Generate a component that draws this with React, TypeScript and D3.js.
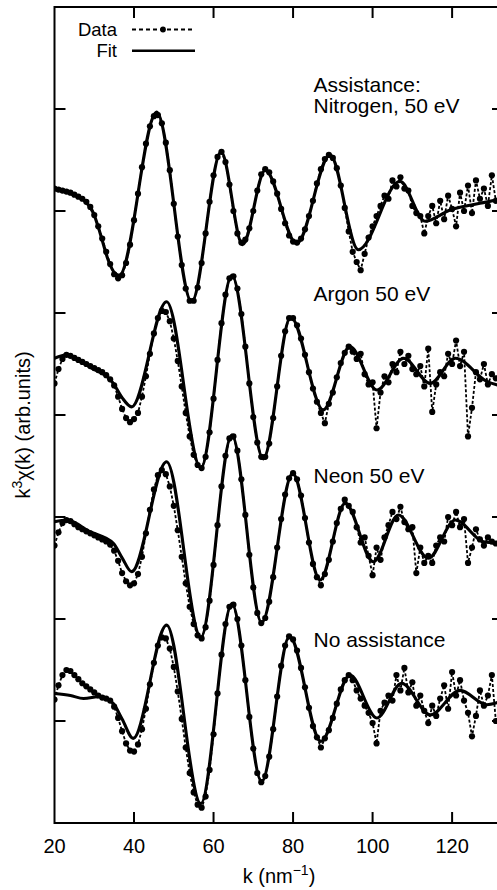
import React from "react";
import * as d3 from "d3";

// k grid for data points (nm^-1)
const kGrid: number[] = d3.range(20, 132, 1);

// Data series (offset k^3 chi(k), arb. units), one value per k in kGrid
const dataNitrogen: number[] = [
  6.22, 6.21, 6.2, 6.19, 6.18, 6.16, 6.14, 6.12, 6.09, 6.04,
  5.96, 5.85, 5.73, 5.6, 5.48, 5.38, 5.34, 5.37, 5.49, 5.67,
  5.91, 6.17, 6.43, 6.66, 6.83, 6.93, 6.94, 6.86, 6.67, 6.4,
  6.07, 5.75, 5.47, 5.24, 5.12, 5.12, 5.25, 5.49, 5.78, 6.09,
  6.35, 6.53, 6.58, 6.48, 6.26, 6.0, 5.78, 5.69, 5.72, 5.83,
  6.0, 6.2, 6.36, 6.41, 6.38, 6.29, 6.17, 6.02, 5.88, 5.76,
  5.7, 5.69, 5.73, 5.82, 5.95, 6.1, 6.27, 6.41, 6.51, 6.55,
  6.52, 6.42, 6.25, 6.03, 5.8, 5.6, 5.5, 5.42, 5.58, 5.74,
  5.85, 5.95, 6.05, 6.15, 6.12, 6.3, 6.24, 6.33, 6.22, 6.2,
  6.05, 5.98, 5.95, 5.78, 5.95, 6.05, 5.88, 6.1, 5.92, 6.15,
  6.02, 5.85, 6.18, 6.0, 6.25, 5.98, 6.3, 6.12, 6.22, 6.05,
  6.35, 6.1,
];
const dataArgon: number[] = [
  4.31, 4.45, 4.55, 4.59, 4.58, 4.56, 4.54, 4.52, 4.5, 4.48,
  4.46, 4.44, 4.42, 4.39, 4.35, 4.29, 4.18, 4.06, 3.97, 3.93,
  3.96, 4.02, 4.18, 4.38, 4.6, 4.8, 4.95, 5.02, 5.01, 4.92,
  4.75, 4.53, 4.28, 4.02, 3.79, 3.61, 3.51, 3.48, 3.59, 3.83,
  4.16, 4.54, 4.9, 5.18, 5.34, 5.36, 5.24, 4.99, 4.67, 4.31,
  3.98, 3.73, 3.59, 3.59, 3.72, 3.97, 4.28, 4.58, 4.82, 4.95,
  4.95, 4.88, 4.75, 4.59, 4.42, 4.26, 4.13, 4.02, 3.92, 4.11,
  4.22, 4.37, 4.51, 4.61, 4.67, 4.62, 4.55, 4.6, 4.4, 4.3,
  4.32, 3.87, 4.22, 4.38, 4.32, 4.5, 4.42, 4.62, 4.5, 4.58,
  4.45, 4.4, 4.48, 4.28, 4.65, 4.03, 4.3, 4.42, 4.38, 4.6,
  4.5, 4.73, 4.48, 4.62, 3.79, 4.07, 4.42, 4.35, 4.5, 4.3,
  4.4, 4.36,
];
const dataNeon: number[] = [
  2.72, 2.85, 2.94, 2.97, 2.96, 2.93, 2.9, 2.88, 2.86, 2.84,
  2.82, 2.8, 2.78, 2.76, 2.73, 2.67, 2.57, 2.45, 2.37, 2.33,
  2.35, 2.44, 2.61, 2.84, 3.07, 3.27, 3.41, 3.46, 3.42, 3.3,
  3.11, 2.87, 2.61, 2.35, 2.12, 1.95, 1.84, 1.81, 1.92, 2.18,
  2.53, 2.92, 3.3, 3.6, 3.77, 3.79, 3.65, 3.37, 3.02, 2.63,
  2.31, 2.06, 1.96, 2.01, 2.17, 2.41, 2.7, 2.98, 3.22, 3.38,
  3.43, 3.37, 3.21, 2.99, 2.75, 2.54, 2.41, 2.33, 2.44, 2.58,
  2.76, 2.94, 3.08, 3.17, 3.11, 3.05, 2.9, 2.75, 2.8, 2.62,
  2.43, 2.7, 2.58, 2.8, 2.92, 3.05, 2.98, 3.1, 2.95, 2.88,
  2.9, 2.45, 2.7, 2.55, 2.62, 2.55, 2.72, 2.8, 2.76, 3.0,
  2.92, 3.05, 2.9, 2.98, 2.55, 2.7, 2.88, 2.78, 2.72, 2.8,
  2.76, 2.74,
];
const dataNoAssist: number[] = [
  1.21, 1.35, 1.45, 1.5, 1.49, 1.45, 1.41, 1.37, 1.34, 1.31,
  1.28, 1.25, 1.23, 1.22, 1.2, 1.14, 1.03, 0.9, 0.78, 0.71,
  0.7, 0.77, 0.92, 1.12, 1.36, 1.57, 1.74, 1.82, 1.81, 1.71,
  1.53, 1.29, 1.02, 0.74, 0.49, 0.3, 0.18, 0.15, 0.26, 0.52,
  0.87, 1.27, 1.65, 1.95, 2.12, 2.14, 2.0, 1.74, 1.4, 1.04,
  0.73, 0.49, 0.4, 0.46, 0.65, 0.92, 1.24, 1.54, 1.74, 1.83,
  1.8, 1.69, 1.52, 1.33, 1.13, 0.95, 0.84, 0.74, 0.83, 0.91,
  1.03, 1.17, 1.31, 1.4, 1.45, 1.4, 1.3, 1.22, 1.15, 1.08,
  0.98, 0.78, 1.1, 1.18, 1.25, 1.2, 1.45, 1.3, 1.52, 1.28,
  1.38, 1.15, 1.25, 1.1, 0.98, 1.15, 1.05, 1.22, 1.35, 1.12,
  1.48, 1.25, 1.4, 1.2, 1.08, 0.85, 1.05, 1.3, 1.15, 1.25,
  1.45, 1.0,
];

// Fit curves: [k, value] knots
const fitNitrogen: [number, number][] = [
  [20, 6.21], [24, 6.17], [27.3, 6.11], [29.8, 5.98], [31.5, 5.78], [33.5, 5.52],
  [35.2, 5.39], [36.3, 5.37], [45.7, 6.97], [54.5, 5.11], [61.9, 6.58], [67.3, 5.67],
  [73.0, 6.4], [80.9, 5.68], [89.3, 6.55], [96.4, 5.62], [106.9, 6.29], [113.2, 5.9],
  [119.5, 6.01], [127, 6.075], [132.8, 6.12],
];
const fitArgon: [number, number][] = [
  [20, 4.556], [23.1, 4.59], [28.9, 4.47], [34.8, 4.31], [37, 4.17], [39.4, 4.08],
  [48.2, 5.11], [56.8, 3.48], [64.6, 5.37], [72.5, 3.57], [79.4, 4.96], [87.6, 4.05],
  [94.3, 4.67], [101.1, 4.245], [107.8, 4.556], [114.5, 4.31], [120.8, 4.556],
  [128.7, 4.33], [132.8, 4.28],
];
const fitNeon: [number, number][] = [
  [20, 2.954], [23.1, 2.97], [28.9, 2.856], [34.8, 2.742], [37, 2.6], [39.4, 2.464],
  [48.2, 3.542], [56.8, 1.82], [64.6, 3.804], [72.1, 1.965], [79.9, 3.428], [86.8, 2.382],
  [93.1, 3.134], [100.2, 2.562], [106.5, 3.02], [114.0, 2.595], [120.8, 2.97],
  [127.9, 2.758], [132.8, 2.74],
];
const fitNoAssist: [number, number][] = [
  [20, 1.27], [24, 1.25], [27.3, 1.22], [31.5, 1.24], [34.8, 1.17], [37, 1.02],
  [39.8, 0.83], [48.2, 1.94], [56.8, 0.19], [64.6, 2.15], [72.1, 0.405], [79.1, 1.83],
  [87.0, 0.8], [94.3, 1.45], [101.1, 1.03], [107.3, 1.37], [114.5, 1.06], [122.0, 1.3],
  [128.7, 1.16], [132.8, 1.2],
];

const xTicks: number[] = [20, 40, 60, 80, 100, 120];
const yTicks: number[] = [1, 2, 3, 4, 5, 6, 7];

const curveLabels = [
  { lines: ["Assistance:", "Nitrogen, 50 eV"], v: 7.17 },
  { lines: ["Argon 50 eV"], v: 5.12 },
  { lines: ["Neon 50 eV"], v: 3.33 },
  { lines: ["No assistance"], v: 1.73 },
];

const FONT = "'Liberation Sans', Arial, Helvetica, sans-serif";

export default function App() {
  const W = 497;
  const H = 890;
  const left = 54.5;
  const right = 503;
  const top = 7;
  const bottom = 823;
  const x = d3.scaleLinear().domain([20, 132.8]).range([left, right]);
  const y = d3.scaleLinear().domain([0, 8]).range([bottom, top]);

  const dataSeries = [dataNitrogen, dataArgon, dataNeon, dataNoAssist];
  const fitSeries = [fitNitrogen, fitArgon, fitNeon, fitNoAssist];

  const dataLine = d3
    .line<number>()
    .x((_, i) => x(kGrid[i]))
    .y((d) => y(d));
  const fitLine = d3
    .line<[number, number]>()
    .x((d) => x(d[0]))
    .y((d) => y(d[1]))
    .curve(d3.curveMonotoneX);

  const tickLen = 11;

  return (
    <svg
      width={W}
      height={H}
      style={{ position: "absolute", left: 0, top: 0, background: "#fff" }}
      fontFamily={FONT}
    >
      <defs>
        <clipPath id="plot">
          <rect x={left} y={top} width={right - left} height={bottom - top} />
        </clipPath>
      </defs>
      <rect x={0} y={0} width={W} height={H} fill="#fff" />

      <g clipPath="url(#plot)">
        {dataSeries.map((s, si) => (
          <g key={"d" + si}>
            <path
              d={dataLine(s) || ""}
              fill="none"
              stroke="#000"
              strokeWidth={1.8}
              strokeDasharray="3,2"
            />
            {s.map((v, i) => (
              <circle key={i} cx={x(kGrid[i])} cy={y(v)} r={3.1} fill="#000" />
            ))}
          </g>
        ))}
        {fitSeries.map((f, fi) => (
          <path
            key={"f" + fi}
            d={fitLine(f) || ""}
            fill="none"
            stroke="#000"
            strokeWidth={3.1}
            strokeLinejoin="round"
          />
        ))}
      </g>

      {/* frame */}
      <rect
        x={left}
        y={top}
        width={right - left}
        height={bottom - top}
        fill="none"
        stroke="#000"
        strokeWidth={2}
      />
      {xTicks
        .filter((t) => t > 20)
        .map((t) => (
          <g key={"xt" + t}>
            <line x1={x(t)} x2={x(t)} y1={bottom} y2={bottom - tickLen} stroke="#000" strokeWidth={2} />
            <line x1={x(t)} x2={x(t)} y1={top} y2={top + tickLen} stroke="#000" strokeWidth={2} />
          </g>
        ))}
      {yTicks.map((t) => (
        <g key={"yt" + t}>
          <line x1={left} x2={left + tickLen} y1={y(t)} y2={y(t)} stroke="#000" strokeWidth={2} />
          <line x1={right} x2={right - tickLen} y1={y(t)} y2={y(t)} stroke="#000" strokeWidth={2} />
        </g>
      ))}
      {xTicks.map((t) => (
        <text key={"xl" + t} x={x(t)} y={852.5} fontSize={20} textAnchor="middle" fill="#000">
          {t}
        </text>
      ))}
      <text x={279} y={883} fontSize={20} textAnchor="middle" fill="#000">
        k (nm<tspan dy={-8} fontSize={14}>−1</tspan>
        <tspan dy={8}>)</tspan>
      </text>
      <text
        transform={`translate(30, 425) rotate(-90)`}
        fontSize={20}
        textAnchor="middle"
        fill="#000"
      >
        k<tspan dy={-8} fontSize={14}>3</tspan>
        <tspan dy={8}>χ(k) (arb.units)</tspan>
      </text>

      {/* curve labels */}
      {curveLabels.map((c, ci) => (
        <text key={"cl" + ci} x={313.5} y={y(c.v)} fontSize={21} fill="#000">
          {c.lines.map((l, li) => (
            <tspan key={li} x={313.5} dy={li === 0 ? 0 : 21.5}>
              {l}
            </tspan>
          ))}
        </text>
      ))}

      {/* legend */}
      <text x={117} y={36} fontSize={18.5} textAnchor="end" fill="#000">
        Data
      </text>
      <line x1={132} x2={195} y1={29.5} y2={29.5} stroke="#000" strokeWidth={2} strokeDasharray="4,3" />
      <circle cx={163} cy={29.5} r={2.9} fill="#000" />
      <text x={117} y={57.3} fontSize={18.5} textAnchor="end" fill="#000">
        Fit
      </text>
      <line x1={132} x2={195} y1={50.7} y2={50.7} stroke="#000" strokeWidth={2.6} />
    </svg>
  );
}
